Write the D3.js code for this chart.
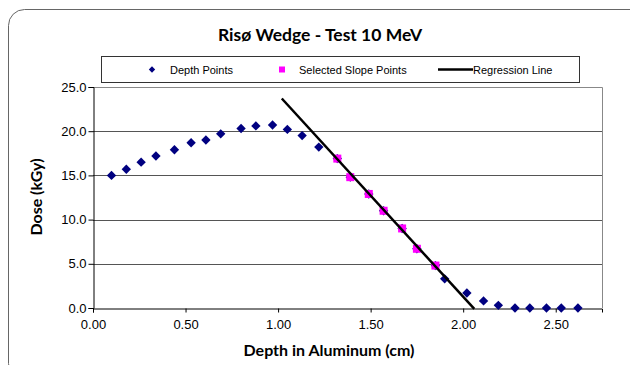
<!DOCTYPE html>
<html>
<head>
<meta charset="utf-8">
<script src="https://cdn.jsdelivr.net/npm/d3@7"></script>
<style>
  html, body { margin: 0; padding: 0; background: #fff; }
  svg { display: block; }
</style>
</head>
<body>
<svg id="chart" width="630" height="365"></svg>
<script>
// depth points (cm, kGy)
const depthX = [0.10, 0.18, 0.26, 0.34, 0.44, 0.53, 0.61, 0.69, 0.80, 0.88, 0.97, 1.05, 1.13, 1.22,
                1.32, 1.39, 1.49, 1.57, 1.67, 1.75, 1.85, 1.90, 2.02, 2.11, 2.19, 2.28, 2.36, 2.45, 2.53, 2.62];
const depthY = [15.0, 15.7, 16.5, 17.2, 17.9, 18.7, 19.0, 19.7, 20.3, 20.6, 20.7, 20.2, 19.5, 18.2,
                16.9, 14.8, 12.9, 11.0, 9.0, 6.7, 4.8, 3.3, 1.7, 0.8, 0.3, 0.0, 0.0, 0.0, 0.0, 0.0];

// selected slope points
const slopeX = [1.32, 1.39, 1.49, 1.57, 1.67, 1.75, 1.85];
const slopeY = [16.9, 14.8, 12.9, 11.0, 9.0, 6.7, 4.8];

// regression line end points
const regX = [1.02, 2.06];
const regY = [23.7, -0.1];

const xTicks = [0, 0.5, 1.0, 1.5, 2.0, 2.5];
const yTicks = [0, 5, 10, 15, 20, 25];

const svg = d3.select('#chart');

const plot = { left: 93, right: 602, top: 87, bottom: 308 };

const x = d3.scaleLinear().domain([0, 2.75]).range([plot.left, plot.right]);
const y = d3.scaleLinear().domain([0, 25]).range([plot.bottom, plot.top]);

// outer rounded frame
svg.append('rect')
    .attr('x', 8.5).attr('y', 9.5)
    .attr('width', 640).attr('height', 370)
    .attr('rx', 16)
    .attr('fill', 'none')
    .attr('stroke', '#666')
    .attr('stroke-width', 1);

// title
svg.append('text')
    .attr('x', 320).attr('y', 41)
    .attr('text-anchor', 'middle')
    .attr('font-family', 'Lato, sans-serif')
    .attr('font-weight', 'bold')
    .attr('font-size', 17.5)
    .text('Risø Wedge - Test 10 MeV');

// gridlines
svg.append('g')
    .selectAll('line')
    .data(yTicks.filter(d => d > 0 && d < 25))
    .join('line')
    .attr('x1', plot.left).attr('x2', plot.right)
    .attr('y1', d => Math.round(y(d)) + 0.5)
    .attr('y2', d => Math.round(y(d)) + 0.5)
    .attr('stroke', '#555');

// plot border (top + right)
svg.append('path')
    .attr('d', `M${plot.left},${plot.top + 0.5}H${plot.right + 0.5}V${plot.bottom}`)
    .attr('fill', 'none')
    .attr('stroke', '#888');

// axes
const xAxis = svg.append('g')
    .attr('transform', `translate(0,${plot.bottom + 0.5})`)
    .call(d3.axisBottom(x).tickValues(xTicks).tickFormat(d3.format('.2f')).tickSizeOuter(0).tickSize(4));
const yAxis = svg.append('g')
    .attr('transform', `translate(${plot.left + 0.5},0)`)
    .call(d3.axisLeft(y).tickValues(yTicks).tickFormat(d3.format('.1f')).tickSizeOuter(0).tickSize(5));

[xAxis, yAxis].forEach(a => {
    a.select('.domain').attr('stroke', '#000');
    a.selectAll('.tick line').attr('stroke', '#000');
    a.selectAll('.tick text')
        .attr('font-family', 'Liberation Sans, Arial, sans-serif')
        .attr('font-size', 13)
        .attr('fill', '#000');
});
xAxis.selectAll('.tick text').attr('dy', '1.05em');
yAxis.selectAll('.tick text').attr('x', -7);

// axis titles
svg.append('text')
    .attr('x', 329).attr('y', 356)
    .attr('text-anchor', 'middle')
    .attr('font-family', 'Lato, sans-serif')
    .attr('font-weight', 'bold')
    .attr('font-size', 16)
    .text('Depth in Aluminum (cm)');

svg.append('text')
    .attr('transform', 'translate(42,197) rotate(-90)')
    .attr('text-anchor', 'middle')
    .attr('font-family', 'Lato, sans-serif')
    .attr('font-weight', 'bold')
    .attr('font-size', 16)
    .text('Dose (kGy)');

// markers
const diamond = d3.symbol().type(d3.symbolDiamond2).size(56);

svg.append('g')
    .selectAll('path')
    .data(depthX.map((d, i) => [d, depthY[i]]))
    .join('path')
    .attr('transform', d => `translate(${x(d[0])},${y(d[1])})`)
    .attr('d', diamond)
    .attr('fill', '#000080');

svg.append('g')
    .selectAll('rect')
    .data(slopeX.map((d, i) => [d, slopeY[i]]))
    .join('rect')
    .attr('x', d => x(d[0]) - 4)
    .attr('y', d => y(d[1]) - 4)
    .attr('width', 8).attr('height', 8)
    .attr('fill', '#ff00ff');

// regression line
svg.append('path')
    .datum(regX.map((d, i) => [d, regY[i]]))
    .attr('d', d3.line().x(d => x(d[0])).y(d => y(d[1])))
    .attr('stroke', '#000')
    .attr('stroke-width', 2.5)
    .attr('fill', 'none');

// legend
const legend = svg.append('g');
legend.append('rect')
    .attr('x', 101.5).attr('y', 56.5)
    .attr('width', 478).attr('height', 26)
    .attr('fill', '#fff')
    .attr('stroke', '#333');

const legendFont = g => g
    .attr('font-family', 'Liberation Sans, Arial, sans-serif')
    .attr('font-size', 11)
    .attr('fill', '#000');

legend.append('path')
    .attr('transform', 'translate(152,69.5)')
    .attr('d', d3.symbol().type(d3.symbolDiamond2).size(26))
    .attr('fill', '#000080');
legend.append('text').attr('x', 170).attr('y', 73.5).text('Depth Points').call(legendFont);

legend.append('rect')
    .attr('x', 279).attr('y', 66.5).attr('width', 6).attr('height', 6)
    .attr('fill', '#ff00ff');
legend.append('text').attr('x', 299).attr('y', 73.5).text('Selected Slope Points').call(legendFont);

legend.append('line')
    .attr('x1', 438).attr('x2', 473).attr('y1', 69.5).attr('y2', 69.5)
    .attr('stroke', '#000').attr('stroke-width', 2.5);
legend.append('text').attr('x', 473).attr('y', 73.5).text('Regression Line').call(legendFont);
</script>
</body>
</html>
